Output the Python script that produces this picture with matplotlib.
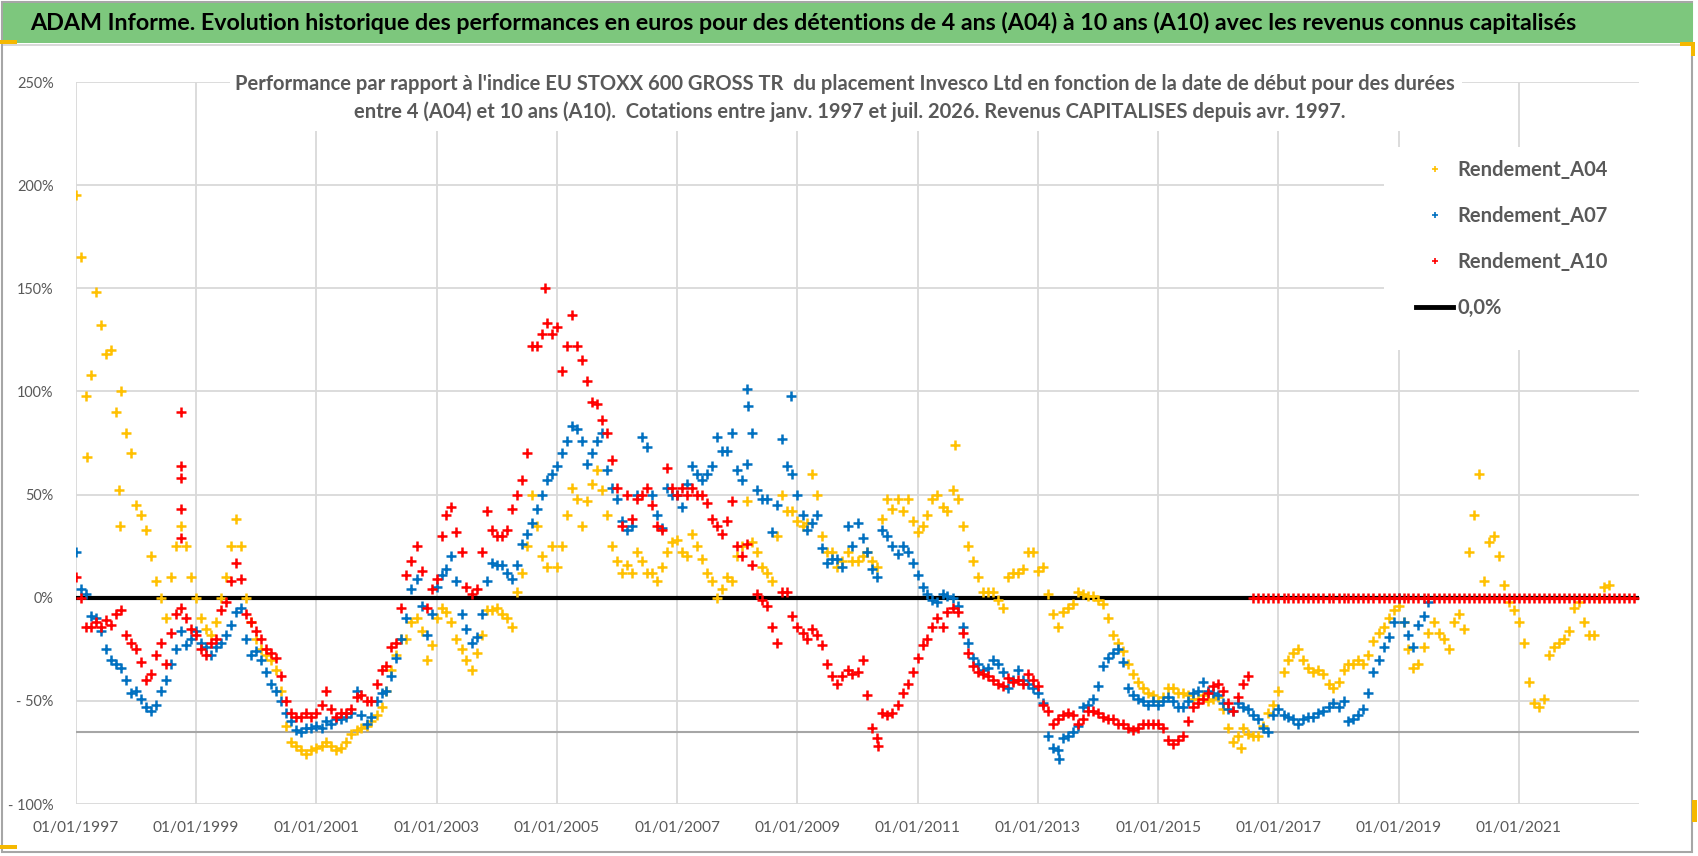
import matplotlib
matplotlib.use("Agg")
import matplotlib.pyplot as plt
from matplotlib.lines import Line2D
from matplotlib.patches import Rectangle
import pandas as pd

plt.rcParams['font.family'] = ['Lato', 'DejaVu Sans']

# monthly values (%), one row per year, starting Jan 1997
a04 = [
    195, 165, 98, 108, 148, 132, 118, 120, 90, 100, 80, 70,        # 1997
    45, 40, 33, 20, 8, 0, -10, 10, 25, 35, 25, 10,                 # 1998
    0, -10, -15, -18, -12, 0, 10, 25, 38, 25, 0, -12,              # 1999
    -20, -25, -28, -30, -35, -45, -62, -70, -72, -74, -76, -74,    # 2000
    -73, -72, -70, -72, -74, -73, -70, -66, -64, -63, -62, -60,    # 2001
    -57, -53, -45, -35, -28, -20, -20, -12, -10, -16, -30, -23,    # 2002
    -10, -5, -7, -12, -20, -25, -30, -35, -27, -18, -6, -6,        # 2003
    -5, -8, -10, -14, 3, 12, 25, 50, 35, 20, 15, 25,               # 2004
    15, 25, 40, 53, 48, 35, 47, 55, 62, 52, 40, 25,                # 2005
    18, 12, 16, 12, 22, 18, 12, 12, 8, 15, 22, 27,                 # 2006
    28, 22, 20, 31, 25, 19, 12, 8, 0, 4, 10, 8,                    # 2007
    20, 25, 47, 27, 22, 15, 12, 8, 30, 50, 42, 42,                 # 2008
    37, 35, 36, 60, 50, 30, 22, 22, 15, 18, 22, 18,                # 2009
    18, 20, 22, 18, 15, 38, 48, 43, 48, 42, 48, 37,                # 2010
    32, 35, 40, 48, 50, 44, 42, 52, 48, 35, 25, 18,                # 2011
    10, 3, 3, 3, -1, -5, 10, 12, 12, 14, 22, 22,                   # 2012
    13, 15, 2, -8, -14, -7, -5, -3, 3, 2, 1, 1,                    # 2013
    -1, -3, -10, -18, -22, -26, -32, -37, -41, -44, -46, -47,      # 2014
    -50, -48, -44, -44, -46, -46, -47, -49, -49, -47, -50, -49,    # 2015
    -48, -54, -63, -70, -67, -63, -66, -67, -67, -62, -56, -52,    # 2016
    -45, -36, -30, -27, -25, -30, -34, -36, -35, -37, -42, -44,    # 2017
    -41, -35, -32, -32, -30, -32, -28, -21, -17, -14, -10, -6,     # 2018
    -4, -12, -25, -34, -32, -24, -17, -12, -17, -20, -25, -12,     # 2019
    -8, -15, 22, 40, 60, 8, 27, 30, 20, 6, -2, -6,                 # 2020
    -12, -22, -41, -51, -53, -49, -28, -24, -22, -20, -16, -5,     # 2021
    -2, -12, -18, -18, 0, 5, 6,                                    # 2022
]

a07 = [
    22, 4, 2, -9, -10, -16, -25, -30, -32, -34, -40, -46,          # 1997
    -45, -49, -53, -55, -52, -45, -40, -32, -25, -16, -23, -20,    # 1998
    -16, -22, -24, -28, -24, -22, -18, -13, -7, -5, -20, -28,      # 1999
    -26, -30, -36, -42, -45, -50, -56, -60, -64, -65, -63, -63,    # 2000
    -62, -63, -60, -61, -59, -59, -58, -56, -45, -57, -61, -58,    # 2001
    -50, -46, -45, -38, -29, -20, -10, 4, 9, -4, -18, -8,          # 2002
    5, 11, 14, 20, 8, -8, -15, -22, -19, -8, 8, 17,                # 2003
    16, 16, 12, 9, 16, 26, 31, 36, 43, 50, 57, 60,                 # 2004
    64, 70, 76, 83, 82, 76, 65, 70, 76, 80, 62, 53,                # 2005
    48, 37, 33, 35, 50, 78, 73, 50, 40, 34, 53, 50,                # 2006
    50, 44, 55, 64, 60, 57, 60, 64, 78, 71, 71, 80,                # 2007
    62, 57, 65, 80, 52, 48, 48, 32, 45, 77, 64, 60,                # 2008
    50, 40, 33, 36, 40, 24, 17, 19, 19, 15, 35, 25,                # 2009
    36, 29, 22, 14, 10, 33, 30, 25, 21, 25, 22, 17,                # 2010
    11, 5, 2, -1, -2, 2, 1, 0, -4, -14, -22, -29,                  # 2011
    -32, -35, -34, -30, -32, -36, -44, -40, -35, -40, -42, -44,    # 2012
    -46, -51, -67, -73, -74, -68, -67, -65, -62, -53, -52, -49,    # 2013
    -43, -33, -29, -27, -25, -31, -44, -47, -49, -50, -52, -50,    # 2014
    -52, -50, -48, -50, -53, -53, -50, -46, -45, -41, -45, -46,    # 2015
    -47, -51, -54, -55, -51, -53, -54, -57, -59, -63, -65, -57,    # 2016
    -54, -57, -58, -59, -61, -59, -58, -58, -56, -55, -53, -51,    # 2017
    -53, -50, -60, -59, -57, -54, -46, -36, -30, -24, -19, -12,    # 2018
    0, -12, -18, -24, -13, -9, -2,                                 # 2019
]

a10 = [
    10, 0, -14, -14, -12, -14, -11, -13, -8, -6, -18, -22,         # 1997
    -25, -31, -40, -37, -28, -22, -32, -17, -8, -5, -10, -15,      # 1998
    -18, -25, -28, -22, -20, -6, -2, 8, 17, 9, -8, -12,            # 1999
    -16, -20, -25, -27, -29, -38, -50, -56, -58, -58, -56, -58,    # 2000
    -56, -52, -45, -54, -58, -56, -56, -54, -48, -47, -50, -50,    # 2001
    -42, -35, -33, -24, -22, -5, 11, 18, 25, 13, -5, 4,            # 2002
    9, 30, 40, 44, 32, 22, 5, 2, 4, 22, 42, 33,                    # 2003
    30, 30, 33, 43, 50, 57, 70, 122, 122, 128, 133, 128,           # 2004
    131, 110, 122, 137, 122, 115, 105, 95, 94, 86, 80, 67,         # 2005
    53, 35, 50, 38, 48, 50, 53, 45, 35, 33, 63, 53,                # 2006
    50, 53, 50, 53, 50, 50, 46, 38, 35, 31, 37, 47,                # 2007
    25, 20, 26, 16, 2, -1, -4, -14, -22, 3, 3, -9,                 # 2008
    -14, -17, -20, -15, -18, -23, -32, -38, -42, -38, -35, -37,    # 2009
    -36, -30, -47, -63, -68, -56, -57, -56, -52, -46, -42, -36,    # 2010
    -29, -23, -20, -14, -10, -14, -7, -5, -7, -17, -27, -33,       # 2011
    -36, -37, -38, -40, -42, -43, -39, -41, -40, -42, -37, -40,    # 2012
    -43, -52, -55, -61, -59, -57, -56, -57, -61, -59, -55, -55,    # 2013
    -56, -58, -59, -59, -61, -61, -63, -64, -63, -61, -61, -61,    # 2014
    -61, -63, -69, -71, -69, -67, -60, -53, -51, -49, -46, -43,    # 2015
    -42, -45, -51, -55, -48, -42, -38,                             # 2016
]
# A10 has no value after July 2016: Excel plots those dates at 0
a10_zeros = [0] * 77

# isolated daily points that stand out of the monthly bands
a04_spike_dates = ["1997-03-10", "1997-09-20", "1997-09-25", "2011-08-15", "2016-05-20"]
a04_spike_vals = [68, 52, 35, 74, -73]
a07_spike_dates = ["2008-03-01", "2008-03-05", "2008-11-20", "2013-05-10"]
a07_spike_vals = [101, 93, 98, -78]
a10_spike_dates = ["1998-09-28", "1998-09-29", "1998-09-30", "1998-10-01", "1998-10-02",
                   "2004-10-20", "2010-05-05"]
a10_spike_vals = [90, 64, 58, 43, 29, 150, -72]

tick_years = list(range(1997, 2022, 2))
y_ticks = [-100, -50, 0, 50, 100, 150, 200, 250]
ref_level = -65

title = ("ADAM Informe. Evolution historique des performances en euros pour des détentions "
         "de 4 ans (A04) à 10 ans (A10) avec les revenus connus capitalisés")
sub1 = ("Performance par rapport à l'indice EU STOXX 600 GROSS TR  du placement Invesco Ltd "
        "en fonction de la date de début pour des durées")
sub2 = ("entre 4 (A04) et 10 ans (A10).  Cotations entre janv. 1997 et juil. 2026. "
        "Revenus CAPITALISES depuis avr. 1997.")
labels = ['Rendement_A04', 'Rendement_A07', 'Rendement_A10', '0,0%']

d04 = pd.date_range("1997-01-01", periods=len(a04), freq="MS")
d07 = pd.date_range("1997-01-01", periods=len(a07), freq="MS")
d10 = pd.date_range("1997-01-01", periods=len(a10) + len(a10_zeros), freq="MS")

W, H = 1698, 856
fig = plt.figure(figsize=(W / 100, H / 100), dpi=100)
renderer = fig.canvas.get_renderer()


def fx(px):
    return px / W


def fy(py):
    return 1 - py / H


def box(x0, y0, x1, y1, **kw):
    r = Rectangle((fx(x0), fy(y1)), fx(x1) - fx(x0), fy(y0) - fy(y1),
                  transform=fig.transFigure, **kw)
    fig.patches.append(r)


def size_for(txt, width_px, weight='normal'):
    # font size that makes txt as wide as in the reference
    t = fig.text(0, 0, txt, fontsize=10, fontweight=weight)
    w = t.get_window_extent(renderer).width
    t.remove()
    return 10 * width_px / w


ax = fig.add_axes([fx(76), fy(804), fx(1639) - fx(76), fy(82) - fy(804)])

YEL, BLU, RED = '#FFC000', '#0070C0', '#FF0000'
GREY_TXT = '#595959'

ax.axhline(0, color='black', lw=3, zorder=1.5)
ax.axhline(ref_level, color='#A6A6A6', lw=1.5, zorder=1.2)
mk = dict(ls='none', marker='+', ms=7, mew=1.8)
ax.plot(d04, a04, color=YEL, zorder=2, **mk)
ax.plot(pd.to_datetime(a04_spike_dates), a04_spike_vals, color=YEL, zorder=2, **mk)
ax.plot(d07, a07, color=BLU, zorder=2.1, **mk)
ax.plot(pd.to_datetime(a07_spike_dates), a07_spike_vals, color=BLU, zorder=2.1, **mk)
ax.plot(d10, a10 + a10_zeros, color=RED, zorder=2.2, **mk)
ax.plot(pd.to_datetime(a10_spike_dates), a10_spike_vals, color=RED, zorder=2.2, **mk)

ax.set_xlim(pd.Timestamp("1997-01-01"), pd.Timestamp("2022-12-31"))
ax.set_ylim(-100, 250)
xt = [pd.Timestamp(f"{y}-01-01") for y in tick_years]
ax.set_xticks(xt)
ax.set_xticklabels([f"01/01/{y}" for y in tick_years])
ax.set_yticks(y_ticks)
ax.set_yticklabels([f"{v}%" if v >= 0 else f"- {-v}%" for v in y_ticks])
ax.grid(True, color='#D9D9D9', lw=1.3, zorder=0)
ax.set_axisbelow(True)
for s in ax.spines.values():
    s.set_visible(False)
ax.tick_params(axis='both', length=0, colors=GREY_TXT)
ax.tick_params(axis='x', labelsize=size_for("01/01/1997", 86), pad=12)
ax.tick_params(axis='y', labelsize=size_for("- 100%", 46), pad=16)

# frame, title bar and the white boxes behind the subtitle and legend
box(1.5, 1.5, 1692, 852, fill=False, ec='#A6A6A6', lw=1.5, zorder=1)
box(3, 3, 1693, 43, fc='#7DC77D', ec='none', zorder=1)
box(3, 44, 1692, 46, fc='#D9D9D9', ec='none', zorder=1)
box(230, 60, 1462, 131, fc='white', ec='none', zorder=1)
box(1384, 147, 1640, 350, fc='white', ec='none', zorder=1)
for x0, y0, x1, y1 in [(0, 40, 17, 44), (1680, 42, 1695, 46), (1691, 42, 1695, 56),
                       (0, 845, 17, 849), (1692, 800, 1697, 822)]:
    box(x0, y0, x1, y1, fc='#F5B800', ec='none', zorder=1)

fig.text(fx(803), fy(23), title, ha='center', va='center',
         fontsize=size_for(title, 1557, 'bold'), fontweight='bold', color='black')
sub_fs = size_for(sub1, 1221, 'bold')
fig.text(fx(845), fy(84), sub1, ha='center', va='center', fontsize=sub_fs,
         fontweight='bold', color=GREY_TXT)
fig.text(fx(850), fy(112), sub2, ha='center', va='center', fontsize=sub_fs,
         fontweight='bold', color=GREY_TXT)

handles = [
    Line2D([], [], ls='none', marker='+', ms=5, mew=1.2, color=YEL),
    Line2D([], [], ls='none', marker='+', ms=5, mew=1.2, color=BLU),
    Line2D([], [], ls='none', marker='+', ms=5, mew=1.2, color=RED),
    Line2D([], [], color='black', lw=3.5),
]
fs = size_for(labels[0], 151, 'bold')
fpx = fs * 100 / 72
fig.legend(handles, labels, loc='upper left', bbox_to_anchor=(fx(1416), fy(160)),
           frameon=False, borderaxespad=0, borderpad=0,
           prop={'size': fs, 'weight': 'bold'}, labelcolor=GREY_TXT,
           handlelength=37 / fpx, handletextpad=4 / fpx,
           labelspacing=(50 - 1.2 * fpx) / fpx)

fig.savefig("out.png", dpi=100)
